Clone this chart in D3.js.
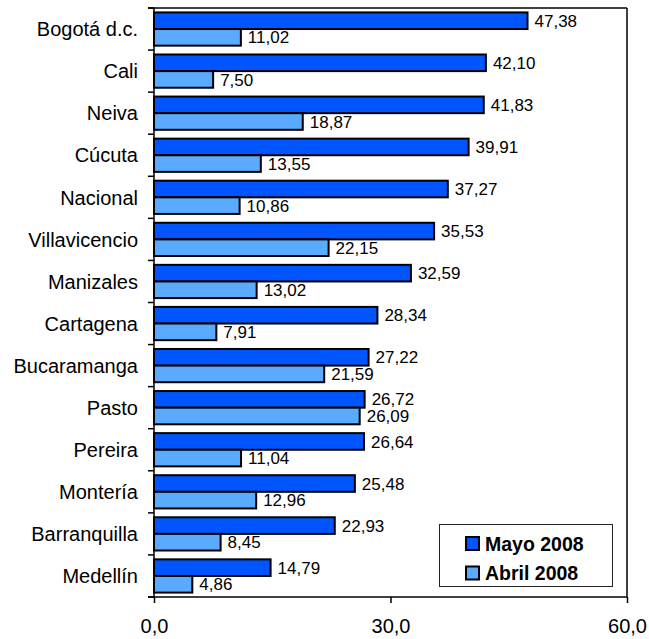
<!DOCTYPE html>
<html>
<head>
<meta charset="utf-8">
<script src="https://cdn.jsdelivr.net/npm/d3@7"></script>
<style>
  html, body { margin: 0; padding: 0; background: #fff; }
  svg { display: block; font-family: "Liberation Sans", Arial, sans-serif; }
</style>
</head>
<body>
<svg id="chart" width="649" height="639"></svg>
<script>
const categories = ["Bogotá d.c.", "Cali", "Neiva", "Cúcuta", "Nacional", "Villavicencio", "Manizales", "Cartagena", "Bucaramanga", "Pasto", "Pereira", "Montería", "Barranquilla", "Medellín"];
const mayo2008 = [47.38, 42.10, 41.83, 39.91, 37.27, 35.53, 32.59, 28.34, 27.22, 26.72, 26.64, 25.48, 22.93, 14.79];
const abril2008 = [11.02, 7.50, 18.87, 13.55, 10.86, 22.15, 13.02, 7.91, 21.59, 26.09, 11.04, 12.96, 8.45, 4.86];
const seriesNames = ["Mayo 2008", "Abril 2008"];
const seriesColors = ["#0055ff", "#5aaaff"];
const xTicks = [0, 30, 60];

const series = [mayo2008, abril2008];
const svg = d3.select("#chart");

const pLeft = 154, pRight = 627, pTop = 8, pBottom = 597;
const x = d3.scaleLinear().domain([0, 60]).range([pLeft, pRight]);
const y = d3.scaleBand().domain(categories).range([pTop, pBottom]).padding(0);
const bw = y.bandwidth();
const pad = bw * 0.105;
const ySub = d3.scaleBand().domain([0, 1]).range([pad, bw - pad]).padding(0);

const fmt = v => d3.format(".2f")(v).replace(".", ",");

// frame: top and right
svg.append("line").attr("x1", pLeft - 6).attr("x2", pRight).attr("y1", pTop).attr("y2", pTop)
  .attr("stroke", "#000").attr("stroke-width", 1.5);
svg.append("line").attr("x1", pRight).attr("x2", pRight).attr("y1", pTop).attr("y2", pBottom)
  .attr("stroke", "#000").attr("stroke-width", 1.5);

// bars
const groups = svg.append("g").selectAll("g").data(categories).join("g")
  .attr("transform", d => `translate(0,${y(d)})`);

series.forEach((vals, si) => {
  groups.append("rect")
    .attr("x", x(0))
    .attr("y", ySub(si))
    .attr("width", (d, i) => x(vals[i]) - x(0))
    .attr("height", ySub.bandwidth())
    .attr("fill", seriesColors[si])
    .attr("stroke", "#000")
    .attr("stroke-width", 2);
  groups.append("text")
    .attr("x", (d, i) => x(vals[i]) + 7)
    .attr("y", ySub(si) + ySub.bandwidth() / 2)
    .attr("dy", "0.36em")
    .attr("font-size", 17)
    .attr("fill", "#000")
    .text((d, i) => fmt(vals[i]));
});

// left axis: ticks at band boundaries
const yAxis = svg.append("g");
yAxis.append("line").attr("x1", pLeft).attr("x2", pLeft).attr("y1", pTop).attr("y2", pBottom)
  .attr("stroke", "#000").attr("stroke-width", 1.5);
const boundaries = categories.map(c => y(c)).concat([pBottom]);
yAxis.selectAll("line.tk").data(boundaries).join("line").attr("class", "tk")
  .attr("x1", pLeft - 6).attr("x2", pLeft).attr("y1", d => d).attr("y2", d => d)
  .attr("stroke", "#000").attr("stroke-width", 1.5);
yAxis.selectAll("text").data(categories).join("text")
  .attr("x", 138).attr("y", d => y(d) + bw / 2).attr("dy", "0.36em")
  .attr("text-anchor", "end").attr("font-size", 20).attr("fill", "#000")
  .text(d => d);

// bottom axis
const xAxis = svg.append("g").attr("transform", `translate(0,${pBottom})`)
  .call(d3.axisBottom(x).tickValues(xTicks).tickSize(6).tickPadding(16)
    .tickFormat(v => d3.format(".1f")(v).replace(".", ",")));
xAxis.select(".domain").attr("d", `M${pLeft - 6},0H${pRight}`).attr("stroke-width", 1.5);
xAxis.selectAll(".tick line").attr("stroke-width", 1.5);
xAxis.selectAll(".tick text").attr("font-size", 20).attr("font-family", "Liberation Sans, Arial, sans-serif").attr("fill", "#000");

// legend
const lg = svg.append("g");
lg.append("rect").attr("x", 439.5).attr("y", 524.5).attr("width", 173).attr("height", 62)
  .attr("fill", "#fff").attr("stroke", "#222").attr("stroke-width", 1);
seriesNames.forEach((name, i) => {
  const cy = 543.5 + i * 29.5;
  lg.append("rect").attr("x", 466).attr("y", cy - 6.5).attr("width", 13).attr("height", 13)
    .attr("fill", seriesColors[i]).attr("stroke", "#000").attr("stroke-width", 2);
  lg.append("text").attr("x", 485).attr("y", cy).attr("dy", "0.36em")
    .attr("font-size", 19.5).attr("font-weight", "bold").attr("fill", "#000").text(name);
});
</script>
</body>
</html>
